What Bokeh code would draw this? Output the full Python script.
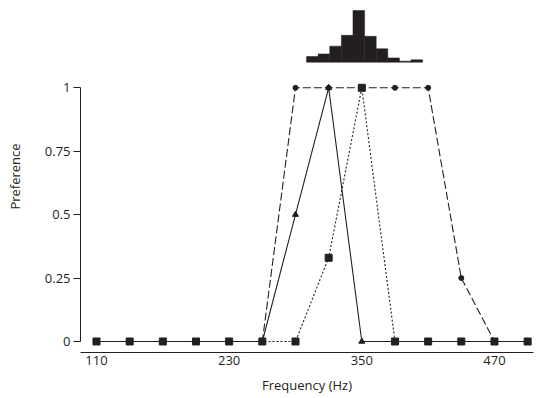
from bokeh.plotting import figure
from bokeh.models import Range1d, FixedTicker
from bokeh.embed import file_html
from bokeh.resources import INLINE

# ---- data ----
freq = [110, 140, 170, 200, 230, 260, 290, 320, 350, 380, 410, 440, 470, 500]
pref_solid = [0, 0, 0, 0, 0, 0, 0.5, 1, 0, 0, 0, 0, 0, 0]          # triangles
pref_dotted = [0, 0, 0, 0, 0, 0, 0, 0.33, 1, 0, 0, 0, 0, 0]        # squares
pref_dashed = [0, 0, 0, 0, 0, 0, 1, 1, 1, 1, 1, 0.25, 0, 0]        # circles

bin_edges = [300, 310.5, 321, 331.5, 342, 352.5, 363, 373.5, 384, 394.5, 405]
hist_rel = [0.11, 0.16, 0.31, 0.52, 1.0, 0.50, 0.26, 0.083, 0.02, 0.045]

x_ticks = [110, 230, 350, 470]
y_ticks = [0, 0.25, 0.5, 0.75, 1]
y_tick_labels = ["0", "0.25", "0.5", "0.75", "1"]

INK = "#231f20"
FONT = "Open Sans"

p = figure(width=536, height=396, output_backend="svg", toolbar_location=None,
           x_range=Range1d(95.53, 505.3), y_range=Range1d(-0.0434, 1.3441),
           min_border_left=80, min_border_right=3, min_border_top=0,
           min_border_bottom=44)
p.extra_y_ranges = {"hist": Range1d(-5.615, 1.1934)}

p.outline_line_color = None
p.grid.visible = False
p.background_fill_color = "white"
p.border_fill_color = "white"

# histogram
p.quad(left=bin_edges[:-1], right=bin_edges[1:], bottom=0, top=hist_rel,
       y_range_name="hist", fill_color=INK, line_color=INK, line_width=0.5)

# lines
p.line(freq, pref_dashed, line_color=INK, line_width=1.1, line_dash="8 3")
p.line(freq, pref_dotted, line_color=INK, line_width=1.1, line_dash="2 2")
p.line(freq, pref_solid, line_color=INK, line_width=1.1)

# markers
p.scatter(freq, pref_solid, marker="triangle", size=6, fill_color=INK, line_color=INK)
p.scatter(freq, pref_dashed, marker="circle", size=5, fill_color=INK, line_color=INK)
p.scatter(freq, pref_dotted, marker="square", size=7, fill_color=INK, line_color=INK)

# x axis
xa = p.xaxis[0]
xa.ticker = FixedTicker(ticks=x_ticks)
xa.major_tick_out = 0
xa.major_tick_in = 0
xa.minor_tick_out = 0
xa.minor_tick_in = 0
xa.axis_line_color = INK
xa.major_label_standoff = 3
xa.major_label_text_font = FONT
xa.major_label_text_font_size = "13px"
xa.major_label_text_color = INK
xa.axis_label = "Frequency (Hz)"
xa.axis_label_text_font = FONT
xa.axis_label_text_font_size = "13px"
xa.axis_label_text_font_style = "normal"
xa.axis_label_text_color = INK
xa.axis_label_standoff = 8

# y axis
ya = p.yaxis[0]
ya.ticker = FixedTicker(ticks=y_ticks)
ya.major_label_overrides = {t: l for t, l in zip(y_ticks, y_tick_labels)}
ya.bounds = (0, 1)
ya.major_tick_out = 7
ya.major_tick_in = 0
ya.minor_tick_out = 0
ya.minor_tick_in = 0
ya.axis_line_color = INK
ya.major_tick_line_color = INK
ya.major_label_standoff = 3
ya.major_label_text_font = FONT
ya.major_label_text_font_size = "13px"
ya.major_label_text_color = INK
ya.axis_label = "Preference"
ya.axis_label_text_font = FONT
ya.axis_label_text_font_size = "13px"
ya.axis_label_text_font_style = "normal"
ya.axis_label_text_color = INK
ya.axis_label_standoff = 18

open("out.html", "w").write(file_html(p, INLINE))
